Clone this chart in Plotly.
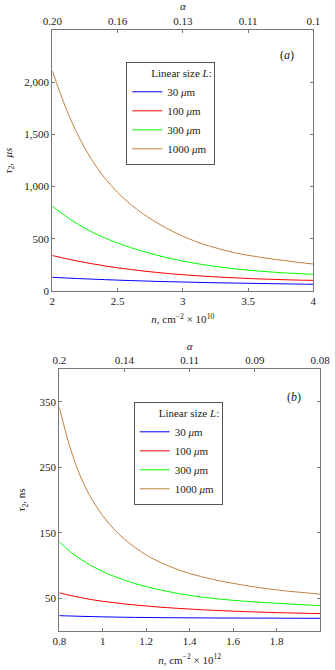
import plotly.graph_objects as go

# ---------- data: panel (a) ----------
n_a = [2.0, 2.1, 2.2, 2.3, 2.4, 2.5, 2.6, 2.7, 2.8, 2.9, 3.0,
       3.1, 3.2, 3.3, 3.4, 3.5, 3.6, 3.7, 3.8, 3.9, 4.0]
tau_a_30 = [131, 125, 119, 114, 109, 104, 100, 96, 92, 89, 86,
            83, 80, 78, 76, 74, 72, 70, 68, 66, 64]
tau_a_100 = [340, 311, 285, 262, 241, 222, 206, 191, 178, 166, 156,
             147, 139, 132, 126, 120, 115, 111, 107, 104, 102]
tau_a_300 = [813, 718, 637, 568, 510, 460, 416, 378, 344, 313, 287,
             264, 244, 227, 212, 200, 189, 180, 172, 166, 160]
tau_a_1000 = [2110, 1765, 1485, 1262, 1085, 945, 830, 735, 655, 585, 525,
              474, 432, 396, 366, 342, 322, 304, 288, 272, 258]
alpha_pos_a = [2, 2.5, 3, 3.5, 4]
alpha_text_a = ["0.20", "0.16", "0.13", "0.11", "0.1"]

# ---------- data: panel (b) ----------
n_b = [0.80, 0.85, 0.90, 0.95, 1.00, 1.05, 1.10, 1.15, 1.20, 1.25, 1.30, 1.35, 1.40,
       1.45, 1.50, 1.55, 1.60, 1.65, 1.70, 1.75, 1.80, 1.85, 1.90, 1.95, 2.00]
tau_b_30 = [23, 22.5, 22, 21.6, 21.2, 20.9, 20.6, 20.4, 20.2, 20.0, 19.9, 19.8, 19.7,
            19.6, 19.5, 19.4, 19.4, 19.3, 19.3, 19.2, 19.2, 19.1, 19.1, 19.0, 19.0]
tau_b_100 = [58, 54, 50.5, 47.5, 45, 43, 41, 39.3, 37.8, 36.4, 35.2, 34.1, 33.1,
             32.2, 31.4, 30.6, 29.9, 29.3, 28.7, 28.2, 27.7, 27.3, 26.9, 26.5, 26.2]
tau_b_300 = [136, 121, 109, 99, 90.5, 83.5, 77.5, 72, 67.5, 63.5, 60, 56.8, 54,
             51.7, 49.8, 48, 46.5, 45.2, 44, 43, 42, 41, 40, 39.2, 38.5]
tau_b_1000 = [342, 280, 234, 201, 176, 156, 140, 127, 116, 107, 99.5, 93, 87.5,
              83, 79, 75.5, 72.5, 69.5, 67, 64.5, 62.5, 60.5, 59, 57.5, 56]
alpha_pos_b = [0.8, 1.1, 1.4, 1.7, 2.0]
alpha_text_b = ["0.2", "0.14", "0.11", "0.09", "0.08"]

labels = ["30 <i>μ</i>m", "100 <i>μ</i>m", "300 <i>μ</i>m", "1000 <i>μ</i>m"]
colors = ["#0000FF", "#FF0000", "#00FF00", "#BF8040"]

FONT = "Liberation Serif"
AX = "#777777"
TXT = "#222222"

fig = go.Figure()
for ys, lab, col in zip([tau_a_30, tau_a_100, tau_a_300, tau_a_1000], labels, colors):
    fig.add_trace(go.Scatter(x=n_a, y=ys, mode="lines", name=lab,
                             line=dict(color=col, width=1, shape="spline"),
                             xaxis="x", yaxis="y", legend="legend"))
for ys, lab, col in zip([tau_b_30, tau_b_100, tau_b_300, tau_b_1000], labels, colors):
    fig.add_trace(go.Scatter(x=n_b, y=ys, mode="lines", name=lab,
                             line=dict(color=col, width=1, shape="spline"),
                             xaxis="x2", yaxis="y2", legend="legend2"))

# invisible carriers so the top (alpha) axes are drawn
fig.add_trace(go.Scatter(x=n_a, y=tau_a_1000, mode="lines", line=dict(width=0, color="rgba(0,0,0,0)"),
                         showlegend=False, hoverinfo="skip", xaxis="x3", yaxis="y"))
fig.add_trace(go.Scatter(x=n_b, y=tau_b_1000, mode="lines", line=dict(width=0, color="rgba(0,0,0,0)"),
                         showlegend=False, hoverinfo="skip", xaxis="x4", yaxis="y2"))

W, H = 335, 670
def fx(p): return p / W
def fy(p): return 1 - p / H

common = dict(showline=True, linecolor=AX, linewidth=1, ticks="inside", ticklen=3,
              tickcolor=AX, showgrid=False, zeroline=False, automargin=False,
              tickfont=dict(family=FONT, size=11, color=TXT))
tfont = dict(family=FONT, size=11, color=TXT)
LEG_TITLE = "\u2007" * 4 + "Linear size <i>L</i>:"

fig.update_layout(
    width=W, height=H, margin=dict(l=0, r=0, t=0, b=0),
    paper_bgcolor="white", plot_bgcolor="white",
    font=dict(family=FONT, size=11, color=TXT),
    xaxis=dict(domain=[fx(52.3), fx(313.3)], anchor="y", range=[2, 4],
               tickvals=[2, 2.5, 3, 3.5, 4], ticktext=["2", "2.5", "3", "3.5", "4"],
               title=dict(text="<i>n</i>, cm<sup>−2</sup> × 10<sup>10</sup>", font=tfont, standoff=9),
               **common),
    yaxis=dict(domain=[fy(291), fy(30)], anchor="x", range=[0, 2500],
               tickvals=[0, 500, 1000, 1500, 2000], tickformat=",", mirror="ticks",
               title=dict(text="<i>τ</i><sub>2</sub>,  <i>μs</i>", font=tfont, standoff=9),
               **common),
    xaxis3=dict(overlaying="x", anchor="y", side="top", range=[2, 4],
                tickvals=alpha_pos_a, ticktext=alpha_text_a,
                title=dict(text="<i>α</i>", font=tfont, standoff=2),
                **common),
    xaxis2=dict(domain=[fx(59.3), fx(320)], anchor="y2", range=[0.8, 2.0],
                tickvals=[0.8, 1, 1.2, 1.4, 1.6, 1.8], ticktext=["0.8", "1", "1.2", "1.4", "1.6", "1.8"],
                title=dict(text="<i>n</i>, cm<sup>−2</sup> × 10<sup>12</sup>", font=tfont, standoff=10),
                **common),
    yaxis2=dict(domain=[fy(630.7), fy(369.3)], anchor="x2", range=[0, 400],
                tickvals=[50, 150, 250, 350], mirror="ticks",
                title=dict(text="<i>τ</i><sub>2</sub>, ns", font=tfont, standoff=11),
                **common),
    xaxis4=dict(overlaying="x2", anchor="y2", side="top", range=[0.8, 2.0],
                tickvals=alpha_pos_b, ticktext=alpha_text_b,
                title=dict(text="<i>α</i>", font=tfont, standoff=1),
                **common),
    legend=dict(x=fx(126.3), y=fy(62), xanchor="left", yanchor="top",
                bgcolor="white", bordercolor="#555", borderwidth=1,
                font=dict(family=FONT, size=11, color=TXT), tracegroupgap=0, itemwidth=30,
                title=dict(text=LEG_TITLE, side="top",
                           font=dict(family=FONT, size=11, color=TXT))),
    legend2=dict(x=fx(133.7), y=fy(402), xanchor="left", yanchor="top",
                 bgcolor="white", bordercolor="#555", borderwidth=1,
                 font=dict(family=FONT, size=11, color=TXT), tracegroupgap=0, itemwidth=30,
                 title=dict(text=LEG_TITLE, side="top",
                            font=dict(family=FONT, size=11, color=TXT))),
    annotations=[
        dict(text="(<i>a</i>)", x=fx(286.7), y=fy(55), xref="paper", yref="paper",
             xanchor="center", yanchor="middle", showarrow=False,
             font=dict(family=FONT, size=12, color=TXT)),
        dict(text="(<i>b</i>)", x=fx(294), y=fy(396.7), xref="paper", yref="paper",
             xanchor="center", yanchor="middle", showarrow=False,
             font=dict(family=FONT, size=12, color=TXT)),
    ],
)

fig.write_html("out.html", config={"displayModeBar": False},
               post_script="document.body.style.margin='0px';")
